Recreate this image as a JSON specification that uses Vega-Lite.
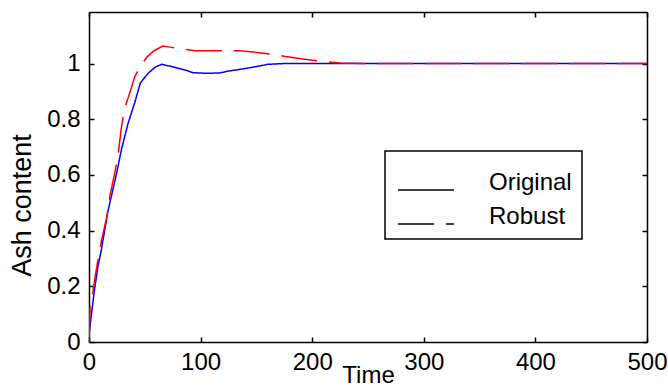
{
  "$schema": "https://vega.github.io/schema/vega-lite/v6.json",
  "width": 558,
  "height": 330,
  "autosize": {"type": "none"},
  "padding": {"left": 89, "top": 12, "right": 21, "bottom": 46},
  "background": "white",
  "config": {
    "font": "Liberation Sans",
    "view": {"stroke": null},
    "axis": {
      "grid": false,
      "domainColor": "black",
      "domainWidth": 1.5,
      "tickColor": "black",
      "tickWidth": 1.5,
      "tickSize": -5,
      "labelColor": "black",
      "labelFontSize": 24,
      "labelFont": "Liberation Sans",
      "titleFont": "Liberation Sans",
      "titleFontSize": 24,
      "titleColor": "black",
      "titleFontWeight": "normal"
    }
  },
  "data": {
    "values": [
      {"series": "Original", "t": 0, "v": 0.03},
      {"series": "Original", "t": 1, "v": 0.06},
      {"series": "Original", "t": 2.5, "v": 0.11},
      {"series": "Original", "t": 5, "v": 0.19},
      {"series": "Original", "t": 8, "v": 0.27},
      {"series": "Original", "t": 11, "v": 0.33},
      {"series": "Original", "t": 14, "v": 0.4},
      {"series": "Original", "t": 17, "v": 0.47},
      {"series": "Original", "t": 21, "v": 0.54},
      {"series": "Original", "t": 25, "v": 0.61},
      {"series": "Original", "t": 29, "v": 0.69},
      {"series": "Original", "t": 35, "v": 0.785},
      {"series": "Original", "t": 41, "v": 0.86},
      {"series": "Original", "t": 46, "v": 0.93},
      {"series": "Original", "t": 53, "v": 0.965},
      {"series": "Original", "t": 59, "v": 0.986},
      {"series": "Original", "t": 65, "v": 0.997},
      {"series": "Original", "t": 74, "v": 0.989},
      {"series": "Original", "t": 86, "v": 0.977},
      {"series": "Original", "t": 93, "v": 0.967},
      {"series": "Original", "t": 105, "v": 0.965},
      {"series": "Original", "t": 117, "v": 0.966},
      {"series": "Original", "t": 125, "v": 0.973},
      {"series": "Original", "t": 137, "v": 0.98},
      {"series": "Original", "t": 150, "v": 0.989},
      {"series": "Original", "t": 160, "v": 0.997},
      {"series": "Original", "t": 175, "v": 1.0},
      {"series": "Original", "t": 200, "v": 1.0},
      {"series": "Original", "t": 250, "v": 1.0},
      {"series": "Original", "t": 300, "v": 1.0},
      {"series": "Original", "t": 400, "v": 1.0},
      {"series": "Original", "t": 500, "v": 1.0},
      {"series": "Robust", "t": 0, "v": 0.0},
      {"series": "Robust", "t": 1, "v": 0.13},
      {"series": "Robust", "t": 3, "v": 0.165},
      {"series": "Robust", "t": 5.5, "v": 0.235},
      {"series": "Robust", "t": 8.5, "v": 0.305},
      {"series": "Robust", "t": 11.5, "v": 0.37},
      {"series": "Robust", "t": 16, "v": 0.45},
      {"series": "Robust", "t": 19, "v": 0.53},
      {"series": "Robust", "t": 23, "v": 0.605},
      {"series": "Robust", "t": 26, "v": 0.67},
      {"series": "Robust", "t": 29, "v": 0.77},
      {"series": "Robust", "t": 32, "v": 0.84},
      {"series": "Robust", "t": 37, "v": 0.9},
      {"series": "Robust", "t": 41, "v": 0.953},
      {"series": "Robust", "t": 46, "v": 0.99},
      {"series": "Robust", "t": 52, "v": 1.024},
      {"series": "Robust", "t": 58, "v": 1.045},
      {"series": "Robust", "t": 66, "v": 1.063},
      {"series": "Robust", "t": 74, "v": 1.058},
      {"series": "Robust", "t": 86, "v": 1.051},
      {"series": "Robust", "t": 95, "v": 1.046},
      {"series": "Robust", "t": 135, "v": 1.046},
      {"series": "Robust", "t": 150, "v": 1.04},
      {"series": "Robust", "t": 165, "v": 1.033},
      {"series": "Robust", "t": 176, "v": 1.025},
      {"series": "Robust", "t": 190, "v": 1.017},
      {"series": "Robust", "t": 207, "v": 1.009},
      {"series": "Robust", "t": 225, "v": 1.002},
      {"series": "Robust", "t": 245, "v": 1.0},
      {"series": "Robust", "t": 300, "v": 1.0},
      {"series": "Robust", "t": 400, "v": 1.0},
      {"series": "Robust", "t": 500, "v": 1.0}
    ]
  },
  "layer": [
    {
      "mark": {"type": "line", "strokeWidth": 1.5, "clip": true},
      "encoding": {
        "x": {
          "field": "t",
          "type": "quantitative",
          "scale": {"domain": [0, 500], "nice": false},
          "axis": {
            "orient": "bottom",
            "values": [0, 100, 200, 300, 400, 500],
            "labelPadding": 13,
            "labelFlush": false,
            "title": "Time",
            "titleBaseline": "alphabetic",
            "titleX": 279,
            "titleY": 40
          }
        },
        "y": {
          "field": "v",
          "type": "quantitative",
          "scale": {"domain": [0, 1.185], "nice": false},
          "axis": {
            "orient": "left",
            "values": [0, 0.2, 0.4, 0.6, 0.8, 1],
            "format": "~g",
            "labelPadding": 14,
            "labelFlush": false,
            "title": "Ash content",
            "titleAngle": -90,
            "titleAlign": "center",
            "titleBaseline": "alphabetic",
            "titleFontSize": 27,
            "titleX": -59,
            "titleY": 193
          }
        },
        "color": {
          "field": "series",
          "type": "nominal",
          "scale": {"domain": ["Robust", "Original"], "range": ["#ff0000", "#0000ff"]},
          "legend": null
        },
        "strokeDash": {
          "field": "series",
          "type": "nominal",
          "scale": {"domain": ["Original", "Robust"], "range": [[1, 0], [36, 12]]},
          "legend": {
            "orient": "none",
            "legendX": 296,
            "legendY": 139,
            "title": null,
            "strokeColor": "black",
            "fillColor": "white",
            "padding": 10,
            "symbolOffset": 2,
            "symbolType": "stroke",
            "symbolSize": 3136,
            "symbolStrokeWidth": 1.5,
            "symbolStrokeColor": "black",
            "labelFont": "Liberation Sans",
            "labelFontSize": 24,
            "labelColor": "black",
            "labelOffset": 34,
            "labelBaseline": "alphabetic",
            "labelExpr": "datum.label + '    '",
            "rowPadding": -10,
            "encode": {
              "symbols": {
                "update": {
                  "stroke": {"value": "black"}
                }
              },
              "legend": {"update": {"strokeWidth": {"value": 1.5}}}
            }
          }
        }
      }
    },
    {
      "mark": {"type": "line", "opacity": 0},
      "encoding": {
        "x": {
          "field": "t",
          "type": "quantitative",
          "scale": {"domain": [0, 500], "nice": false},
          "axis": {"orient": "top", "values": [0, 100, 200, 300, 400, 500], "labels": false, "title": null}
        },
        "y": {
          "field": "v",
          "type": "quantitative",
          "scale": {"domain": [0, 1.185], "nice": false},
          "axis": {"orient": "right", "values": [0, 0.2, 0.4, 0.6, 0.8, 1], "labels": false, "title": null}
        },
        "detail": {"field": "series", "type": "nominal"}
      }
    }
  ],
  "resolve": {"axis": {"x": "independent", "y": "independent"}}
}
